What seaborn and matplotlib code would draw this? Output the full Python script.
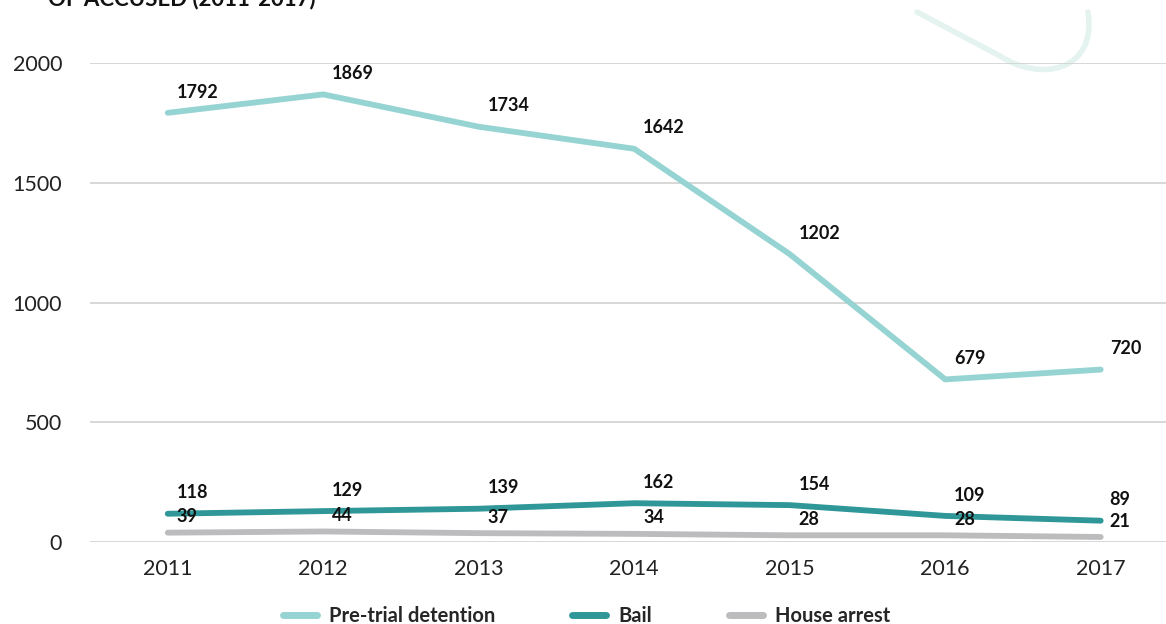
import numpy as np
import pandas as pd
import seaborn as sns
import matplotlib.pyplot as plt
from matplotlib.path import Path
from matplotlib.patches import PathPatch

# valeurs
years = [2011, 2012, 2013, 2014, 2015, 2016, 2017]
pretrial = [1792, 1869, 1734, 1642, 1202, 679, 720]
bail = [118, 129, 139, 162, 154, 109, 89]
house_arrest = [39, 44, 37, 34, 28, 28, 21]

series_names = ["Pre-trial detention", "Bail", "House arrest"]
colors = ["#96d4d3", "#2f9797", "#bcbcbe"]
label_dy = [15, 15, 11.5]

df = pd.DataFrame({
    "year": years * 3,
    "value": pretrial + bail + house_arrest,
    "series": [series_names[0]] * 7 + [series_names[1]] * 7 + [series_names[2]] * 7,
})

sns.set_theme(style="white")
plt.rcParams["font.family"] = ["Lato", "DejaVu Sans"]

fig = plt.figure(figsize=(11.66, 6.24), dpi=100)
ax = fig.add_axes([0.0772, 0.1314, 0.9228, 0.7676])
ax.patch.set_alpha(0)

# arc decoratif en haut a droite
W, H = 1166, 624
pts = [(917, 12), (1000, 56), (1040, 82), (1097, 72), (1088, 12)]
verts = [(x / W, 1 - y / H) for x, y in pts]
codes = [Path.MOVETO, Path.LINETO, Path.CURVE4, Path.CURVE4, Path.CURVE4]
deco = PathPatch(Path(verts, codes), transform=fig.transFigure, fill=False,
                 edgecolor="#e4f3ef", lw=4, capstyle="round", zorder=-1)
fig.add_artist(deco)

sns.lineplot(data=df, x="year", y="value", hue="series", hue_order=series_names,
             palette=colors, linewidth=4.2, ax=ax, legend=False, zorder=3)
for line in ax.lines:
    line.set_solid_capstyle("round")
    line.set_solid_joinstyle("round")

for name, vals, dy in zip(series_names, [pretrial, bail, house_arrest], label_dy):
    for x, v in zip(years, vals):
        ax.annotate(str(v), (x, v), xytext=(6.5, dy), textcoords="offset points",
                    ha="left", va="center", fontsize=13, fontweight="bold",
                    color="#111111", zorder=5)

ax.set_xlim(2010.5, 2017.42)
ax.set_ylim(0, 2000)
ax.set_yticks([0, 500, 1000, 1500, 2000])
ax.set_xticks(years)
ax.yaxis.grid(True, color="#d4d4d4", lw=1.3)
ax.set_axisbelow(True)
for s in ax.spines.values():
    s.set_visible(False)
ax.tick_params(axis="both", length=0, labelsize=15.5, colors="#222222")
ax.tick_params(axis="y", pad=20)
ax.tick_params(axis="x", pad=12)
ax.set_xlabel("")
ax.set_ylabel("")

# legende en bas
handles = [plt.Line2D([], [], color=c, lw=5, solid_capstyle="round") for c in colors]
fig.legend(handles, series_names, loc="center", bbox_to_anchor=(0.503, 0.013), ncol=3,
           frameon=False, handlelength=1.7, columnspacing=3.8, handletextpad=0.6,
           prop={"size": 14.5, "weight": "bold"})

# titre coupe en haut (comme sur l'original)
fig.text(0.041, 1.003, "OF ACCUSED (2011-2017)", fontsize=16, fontweight="bold",
         ha="left", va="center", color="#111111")

fig.savefig("out.png", dpi=100)
